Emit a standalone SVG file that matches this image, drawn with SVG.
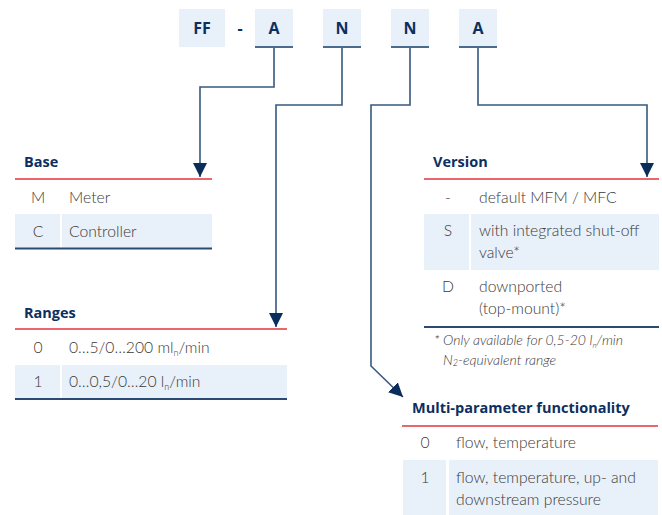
<svg xmlns="http://www.w3.org/2000/svg" width="662" height="515" viewBox="0 0 662 515">
<defs>
<style>
.box{fill:#e8f0f9}
.code{font-family:"Open Sans","Liberation Sans",sans-serif;font-weight:700;font-size:16px;fill:#0d2f5e;text-anchor:middle}
.hdr{font-family:"Open Sans","Liberation Sans",sans-serif;font-weight:700;font-size:14.5px;fill:#0d2f5e}
.txt{font-family:"Lato","Open Sans","Liberation Sans",sans-serif;font-weight:300;font-size:15.7px;fill:#3a3a3a}
.key{font-family:"Lato","Open Sans","Liberation Sans",sans-serif;font-weight:300;font-size:15.7px;fill:#3a3a3a;text-anchor:middle}
.note{font-family:"Lato","Open Sans","Liberation Sans",sans-serif;font-weight:300;font-style:italic;font-size:14px;fill:#3a3a3a}
.red{stroke:#e2333d;stroke-width:1.5;fill:none}
.blue{stroke:#2a4a73;stroke-width:2;fill:none}
.fill{fill:#e8f0f9}
.conn{stroke:#36597f;stroke-width:1.6;fill:none}
.ul{stroke:#4a6a8e;stroke-width:2}
</style>
<marker id="arr" markerUnits="userSpaceOnUse" markerWidth="14" markerHeight="16" refX="14" refY="7" orient="auto" viewBox="0 0 14 14">
<path d="M0,0 L14,7 L0,14 z" fill="#0b2d5b"/>
</marker>
</defs>

<g id="code">
<g id="code-ff"><rect class="box" x="179" y="9" width="46" height="38"/><text class="code" x="202" y="34">FF</text></g>
<text class="code" x="240" y="34">-</text>
<g id="code-a1"><rect class="box" x="255" y="9" width="38" height="38"/><line class="ul" x1="255" y1="47" x2="293" y2="47"/><text class="code" x="274" y="34">A</text></g>
<g id="code-n1"><rect class="box" x="323" y="9" width="38" height="38"/><line class="ul" x1="323" y1="47" x2="361" y2="47"/><text class="code" x="342" y="34">N</text></g>
<g id="code-n2"><rect class="box" x="391" y="9" width="38" height="38"/><line class="ul" x1="391" y1="47" x2="429" y2="47"/><text class="code" x="410" y="34">N</text></g>
<g id="code-a2"><rect class="box" x="459" y="9" width="38" height="38"/><line class="ul" x1="459" y1="47" x2="497" y2="47"/><text class="code" x="478" y="34">A</text></g>
</g>

<g id="connectors">
<path class="conn" d="M274,48 V87 H200 V177" marker-end="url(#arr)"/>
<path class="conn" d="M342,48 V105 H276 V327" marker-end="url(#arr)"/>
<path class="conn" d="M410,48 V105 H371 V366 L403,397" marker-end="url(#arr)"/>
<path class="conn" d="M478,48 V105 H647 V177" marker-end="url(#arr)"/>
</g>

<g id="base">
<text class="hdr" x="24" y="167">Base</text>
<rect class="fill" x="15" y="214" width="45" height="34"/>
<rect class="fill" x="62" y="214" width="150" height="34"/>
<line class="red" x1="15" y1="179" x2="212" y2="179"/>
<line class="blue" x1="15" y1="248.5" x2="212" y2="248.5"/>
<text class="key" x="38" y="203">M</text><text class="txt" x="69" y="203">Meter</text>
<text class="key" x="38" y="237">C</text><text class="txt" x="69" y="237">Controller</text>
</g>

<g id="ranges">
<text class="hdr" x="24" y="318">Ranges</text>
<rect class="fill" x="15" y="365" width="45" height="33"/>
<rect class="fill" x="62" y="365" width="225" height="33"/>
<line class="red" x1="15" y1="329" x2="287" y2="329"/>
<line class="blue" x1="15" y1="399" x2="287" y2="399"/>
<text class="key" x="38" y="353">0</text><text class="txt" x="69" y="353">0…5/0…200 ml<tspan font-size="9" dy="3">n</tspan><tspan dy="-3">/min</tspan></text>
<text class="key" x="38" y="387">1</text><text class="txt" x="69" y="387">0…0,5/0…20 l<tspan font-size="9" dy="3">n</tspan><tspan dy="-3">/min</tspan></text>
</g>

<g id="version">
<text class="hdr" x="433" y="167">Version</text>
<rect class="fill" x="424" y="214" width="45" height="56"/>
<rect class="fill" x="471" y="214" width="188" height="56"/>
<line class="red" x1="424" y1="179" x2="659" y2="179"/>
<line class="blue" x1="424" y1="327" x2="659" y2="327"/>
<text class="key" x="448" y="203">-</text><text class="txt" x="479" y="203">default MFM / MFC</text>
<text class="key" x="448" y="236">S</text><text class="txt" x="479" y="236">with integrated shut-off</text><text class="txt" x="479" y="258">valve*</text>
<text class="key" x="448" y="292">D</text><text class="txt" x="479" y="292">downported</text><text class="txt" x="479" y="314">(top-mount)*</text>
<text class="note" x="434" y="345">* Only available for 0,5-20 l<tspan font-size="8" dy="3">n</tspan><tspan dy="-3">/min</tspan></text>
<text class="note" x="443" y="365">N<tspan font-size="9" dy="1">2</tspan><tspan dy="-1">-equivalent range</tspan></text>
</g>

<g id="multi">
<text class="hdr" x="412" y="413">Multi-parameter functionality</text>
<rect class="fill" x="403" y="460" width="43" height="55"/>
<rect class="fill" x="449" y="460" width="209" height="55"/>
<line class="red" x1="402" y1="426" x2="658" y2="426"/>
<text class="key" x="425" y="448">0</text><text class="txt" x="456" y="448">flow, temperature</text>
<text class="key" x="425" y="483">1</text><text class="txt" x="456" y="483">flow, temperature, up- and</text><text class="txt" x="456" y="505">downstream pressure</text>
</g>
</svg>
